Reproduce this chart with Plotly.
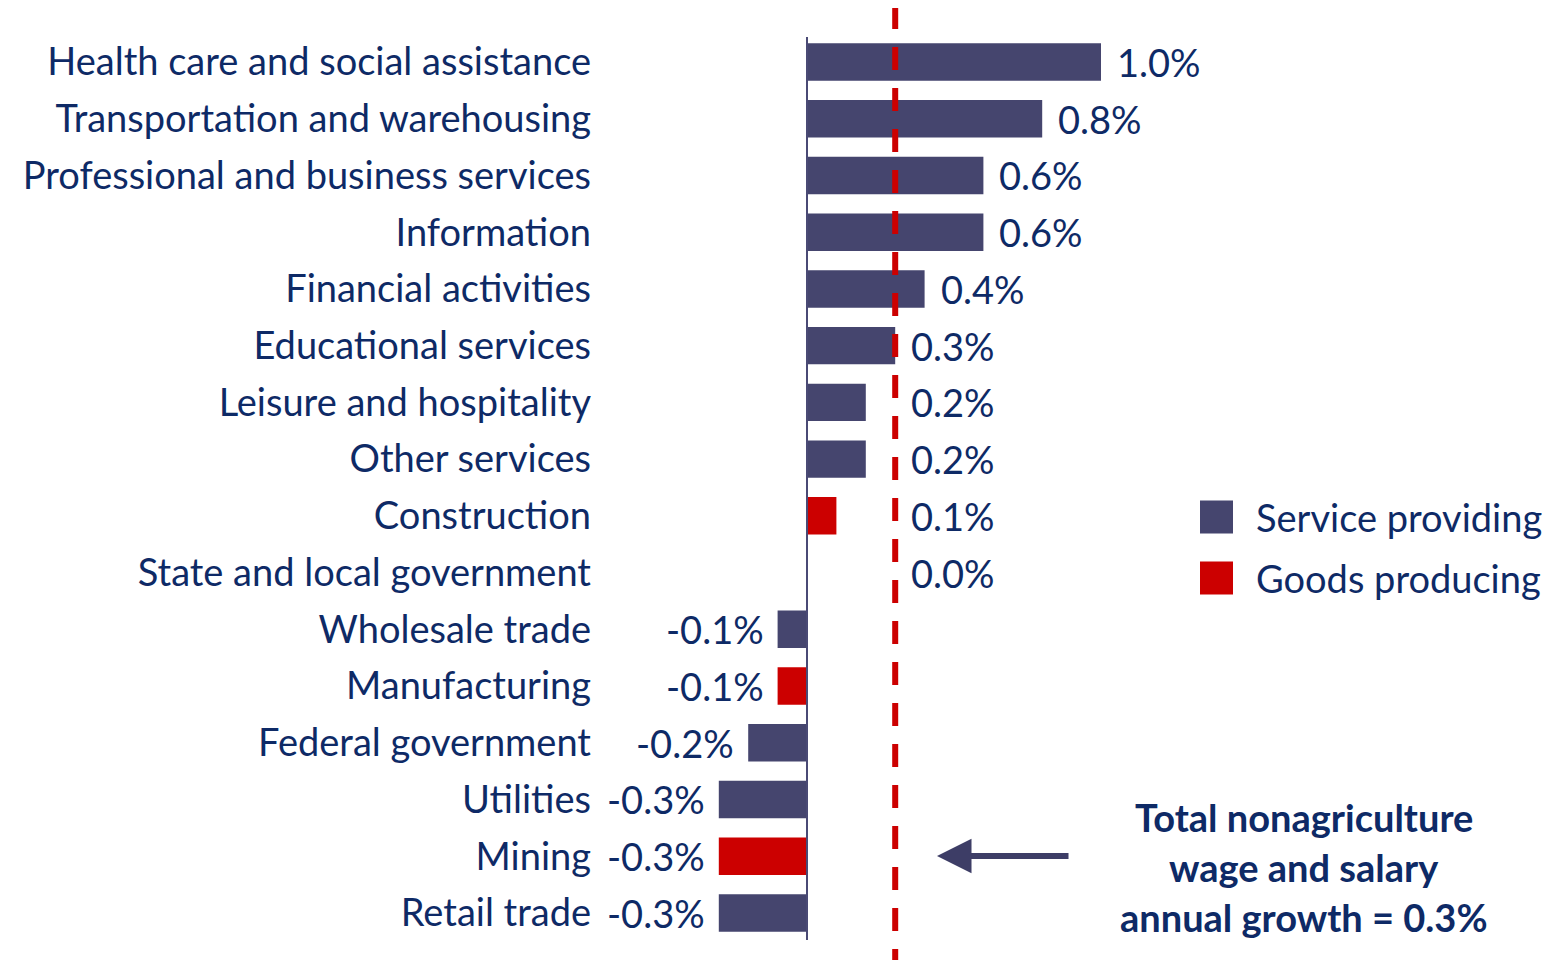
import plotly.graph_objects as go

categories = [
    "Health care and social assistance",
    "Transportation and warehousing",
    "Professional and business services",
    "Information",
    "Financial activities",
    "Educational services",
    "Leisure and hospitality",
    "Other services",
    "Construction",
    "State and local government",
    "Wholesale trade",
    "Manufacturing",
    "Federal government",
    "Utilities",
    "Mining",
    "Retail trade",
]
values = [1.0, 0.8, 0.6, 0.6, 0.4, 0.3, 0.2, 0.2, 0.1, 0.0, -0.1, -0.1, -0.2, -0.3, -0.3, -0.3]
sector = ["Service", "Service", "Service", "Service", "Service", "Service", "Service", "Service",
          "Goods", "Service", "Service", "Goods", "Service", "Service", "Goods", "Service"]
total_growth = 0.3
legend_labels = ["Service providing", "Goods producing"]
note_lines = ["Total nonagriculture", "wage and salary", "annual growth = 0.3%"]

SERVICE = "#45456E"
GOODS = "#CC0000"
TEXT = "#0E2A66"
FONT = "Lato"
FS = 38

OFF = 8  # page body margin
W, H = 1550, 960
L = 600 - OFF
PW = W - L
PX_PER_UNIT = 294.0
x0 = -(807 - OFF - L) / PX_PER_UNIT
x1 = x0 + PW / PX_PER_UNIT
ROW0, ROWSTEP = 62.0 - OFF, 56.73
y_top = (0 - ROW0) / ROWSTEP
y_bot = (H - ROW0) / ROWSTEP

def px_x(p):
    return (p - OFF - L) / PW

def px_y(p):
    return 1 - (p - OFF) / H

colors = [SERVICE if s == "Service" else GOODS for s in sector]

fig = go.Figure()
fig.add_trace(go.Bar(
    y=categories, x=values, orientation="h",
    marker=dict(color=colors, line=dict(width=0)),
    width=0.66, showlegend=False, hoverinfo="x+y",
))

annotations = []
for c, v in zip(categories, values):
    if v >= 0:
        annotations.append(dict(x=max(v, total_growth), y=c, xref="x", yref="y",
                                text=f"{v:.1f}%", showarrow=False, xanchor="left",
                                xshift=14, yshift=0,
                                font=dict(family=FONT, size=FS, color=TEXT)))
    else:
        annotations.append(dict(x=v, y=c, xref="x", yref="y",
                                text=f"{v:.1f}%", showarrow=False, xanchor="right",
                                xshift=-12, yshift=0,
                                font=dict(family=FONT, size=FS, color=TEXT)))

# note text
for i, line in enumerate(note_lines):
    annotations.append(dict(x=px_x(1304), y=px_y(817 + 50 * i), xref="paper", yref="paper",
                            text=f"<b>{line}</b>", showarrow=False, xanchor="center",
                            yanchor="middle",
                            font=dict(family=FONT, size=FS, color=TEXT)))
# arrow
annotations.append(dict(x=px_x(937), y=px_y(856), xref="paper", yref="paper",
                        ax=133, ay=0, text="", showarrow=True, arrowhead=2,
                        arrowsize=1.15, arrowwidth=6, arrowcolor="#3D3D66", standoff=0))
# legend text
for i, lab in enumerate(legend_labels):
    cy = 517 + 61 * i
    annotations.append(dict(x=px_x(1254), y=px_y(cy), xref="paper", yref="paper",
                            text=lab, showarrow=False, xanchor="left", yanchor="middle",
                            font=dict(family=FONT, size=FS, color=TEXT)))

shapes = []
for i, col in enumerate([SERVICE, GOODS]):
    cy = 517 + 61 * i
    shapes.append(dict(type="rect", xref="paper", yref="paper",
                       x0=px_x(1200), x1=px_x(1233), y0=px_y(cy - 16.5), y1=px_y(cy + 16.5),
                       fillcolor=col, line=dict(width=0)))
# zero axis line
shapes.append(dict(type="line", xref="x", yref="paper", x0=0, x1=0,
                   y0=px_y(37), y1=px_y(940), line=dict(color="#4A4A75", width=2)))
# total growth dashed line
shapes.append(dict(type="line", xref="x", yref="paper", x0=total_growth, x1=total_growth,
                   y0=px_y(6), y1=0, line=dict(color=GOODS, width=6, dash="23px,18px")))

fig.update_layout(
    width=W, height=H,
    margin=dict(l=L, r=0, t=0, b=0),
    paper_bgcolor="white", plot_bgcolor="white",
    font=dict(family=FONT, size=FS, color=TEXT),
    xaxis=dict(range=[x0, x1], showgrid=False, zeroline=False, showticklabels=False,
               showline=False, ticks=""),
    yaxis=dict(range=[y_bot, y_top], showgrid=False, zeroline=False, showline=False,
               ticks="", ticklabelstandoff=8, tickfont=dict(family=FONT, size=FS, color=TEXT)),
    annotations=annotations,
    shapes=shapes,
    bargap=0.3,
)

fig.write_html("out.html")
